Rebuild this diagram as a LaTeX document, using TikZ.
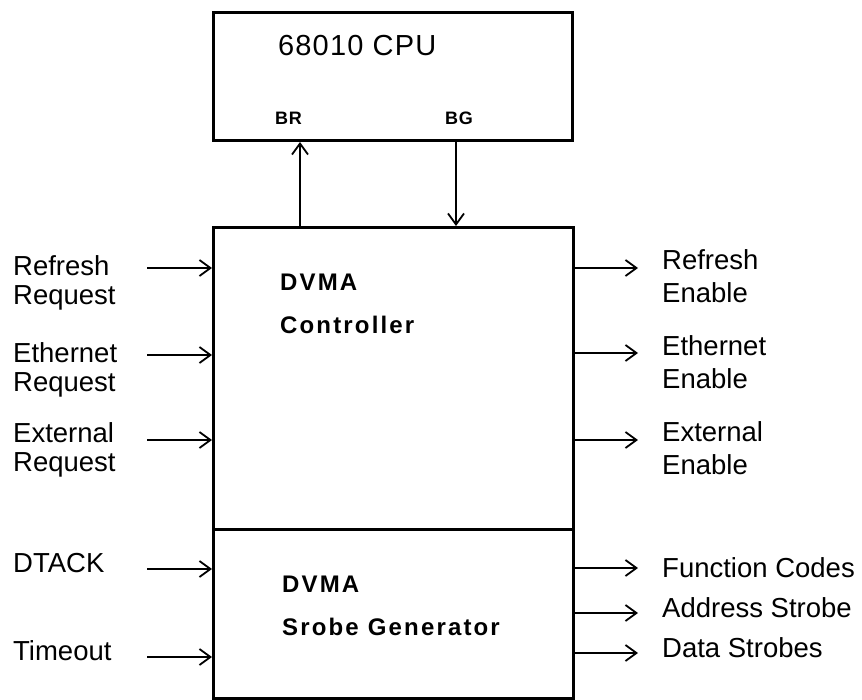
\documentclass[tikz,border=0pt]{standalone}
\usepackage{fontspec}
\setmainfont{Liberation Sans}
\newfontfamily\boxfont[LetterSpace=9]{Liberation Sans}
\newfontfamily\cpufont[LetterSpace=4]{Liberation Sans}
\usetikzlibrary{arrows.meta}
\begin{document}
\begin{tikzpicture}[x=1pt,y=-1pt,
  blk/.style={draw,line width=3pt,inner sep=0pt,anchor=north west},
  lbl/.style={anchor=base west,inner sep=0pt,font=\fontsize{27.5}{30}\selectfont},
  ttl/.style={anchor=base west,inner sep=0pt,font=\boxfont\bfseries\fontsize{24}{28}\selectfont},
  pin/.style={anchor=base west,inner sep=0pt,font=\cpufont\bfseries\fontsize{18}{20}\selectfont},
  arr/.style={line width=2pt,-{Straight Barb[length=11pt,width=16pt,line width=1.8pt]}}]
\useasboundingbox (0,0) rectangle (862,699);
% blocks
\node[blk,minimum width=359pt,minimum height=128pt] (cpu) at (212,11) {};
\node[blk,minimum width=360pt,minimum height=302pt] (ctrl) at (212,226) {};
\node[blk,minimum width=360pt,minimum height=169pt] (strb) at (212,528) {};
% block texts
\node[anchor=base west,inner sep=0pt,font=\cpufont\fontsize{29}{32}\selectfont] (cputxt) at (278,55) {68010 CPU};
\node[pin] (br) at (275,124) {BR};
\node[pin] (bg) at (445,124) {BG};
\node[ttl] (ct1) at (280,290) {DVMA};
\node[ttl] (ct2) at (280,333) {Controller};
\node[ttl] (st1) at (282,592) {DVMA};
\node[ttl] (st2) at (282,635) {Srobe\hspace{9pt}Generator};
% bus request / grant
\draw[arr] ([xshift=88pt]ctrl.north west) -- ([xshift=88pt]cpu.south west);
\draw[arr] ([xshift=244pt]cpu.south west) -- ([xshift=244pt]ctrl.north west);
% left labels
\node[lbl] (l1a) at (13,275) {Refresh};
\node[lbl] (l1b) at (13,304) {Request};
\node[lbl] (l2a) at (13,362) {Ethernet};
\node[lbl] (l2b) at (13,391) {Request};
\node[lbl] (l3a) at (13,442) {External};
\node[lbl] (l3b) at (13,471) {Request};
\node[lbl] (l4) at (13,572) {DTACK};
\node[lbl] (l5) at (13,660) {Timeout};
\coordinate (i1) at (147,268);
\coordinate (i2) at (147,355);
\coordinate (i3) at (147,440);
\coordinate (i4) at (147,569);
\coordinate (i5) at (147,657);
\draw[arr] (i1) -- (i1 -| ctrl.west);
\draw[arr] (i2) -- (i2 -| ctrl.west);
\draw[arr] (i3) -- (i3 -| ctrl.west);
\draw[arr] (i4) -- (i4 -| strb.west);
\draw[arr] (i5) -- (i5 -| strb.west);
% right labels
\node[lbl] (r1a) at (662,269) {Refresh};
\node[lbl] (r1b) at (662,302) {Enable};
\node[lbl] (r2a) at (662,355) {Ethernet};
\node[lbl] (r2b) at (662,388) {Enable};
\node[lbl] (r3a) at (662,441) {External};
\node[lbl] (r3b) at (662,474) {Enable};
\node[lbl] (r4) at (662,577) {Function Codes};
\node[lbl] (r5) at (662,617) {Address Strobe};
\node[lbl] (r6) at (662,657) {Data Strobes};
\coordinate (o1) at (638,268);
\coordinate (o2) at (638,353);
\coordinate (o3) at (638,440);
\coordinate (o4) at (638,568);
\coordinate (o5) at (638,613);
\coordinate (o6) at (638,653);
\draw[arr] (o1 -| ctrl.east) -- (o1);
\draw[arr] (o2 -| ctrl.east) -- (o2);
\draw[arr] (o3 -| ctrl.east) -- (o3);
\draw[arr] (o4 -| strb.east) -- (o4);
\draw[arr] (o5 -| strb.east) -- (o5);
\draw[arr] (o6 -| strb.east) -- (o6);
\end{tikzpicture}
\end{document}
